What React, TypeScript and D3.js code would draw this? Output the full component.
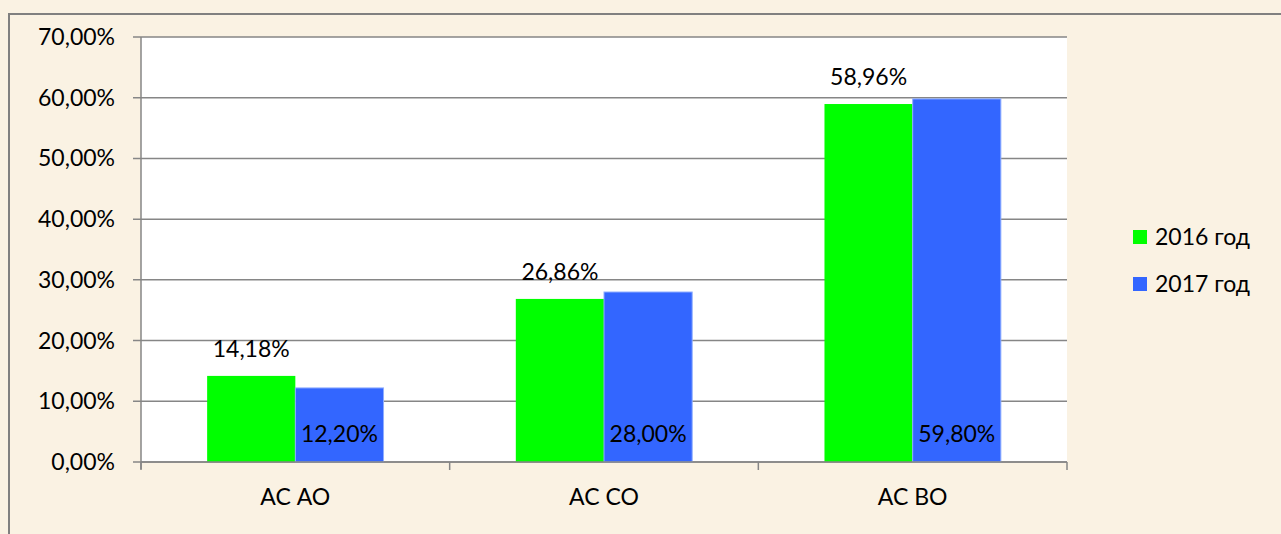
import { scaleBand, scaleLinear } from "d3";

const categories = ["АС АО", "АС СО", "АС ВО"];
const seriesNames = ["2016 год", "2017 год"];
const values2016 = [14.18, 26.86, 58.96];
const values2017 = [12.2, 28.0, 59.8];
const yTicks = [0, 10, 20, 30, 40, 50, 60, 70];

const colors = ["#00FF00", "#3366FF"];
const font = "Lato, 'Open Sans', sans-serif";

const width = 1281;
const height = 534;
const plot = { left: 141, right: 1067, top: 37, bottom: 462 };

const fmt = (v: number) => v.toFixed(2).replace(".", ",") + "%";

export default function App(): React.JSX.Element {
  const y = scaleLinear().domain([0, 70]).range([plot.bottom, plot.top]);
  const x0 = scaleBand<string>().domain(categories).range([plot.left, plot.right]);
  const x1 = scaleBand<string>()
    .domain(seriesNames)
    .range([0, x0.bandwidth()])
    .paddingOuter(0.75);
  const series = [values2016, values2017];

  return (
    <svg
      width={width}
      height={height}
      style={{ position: "fixed", left: 0, top: 0 }}
      fontFamily={font}
    >
      <rect x={0} y={0} width={width} height={height} fill="#FAF2E3" />
      <path d={`M9,${height} V14 H${width}`} fill="none" stroke="#808080" strokeWidth={2} />
      <rect
        x={plot.left}
        y={plot.top}
        width={plot.right - plot.left}
        height={plot.bottom - plot.top}
        fill="#FFFFFF"
      />
      {yTicks.map((t) => (
        <g key={t}>
          <line
            x1={plot.left - 8}
            x2={plot.right}
            y1={y(t)}
            y2={y(t)}
            stroke="#868686"
            strokeWidth={1.5}
          />
          <text
            x={plot.left - 26}
            y={y(t)}
            dy="0.35em"
            textAnchor="end"
            fontSize={23}
            fill="#000"
          >
            {fmt(t)}
          </text>
        </g>
      ))}
      {series.map((vals, si) =>
        categories.map((c, ci) => {
          const bx = (x0(c) ?? 0) + (x1(seriesNames[si]) ?? 0);
          return (
            <rect
              key={`${si}-${ci}`}
              x={bx}
              y={y(vals[ci])}
              width={x1.bandwidth()}
              height={plot.bottom - y(vals[ci])}
              fill={colors[si]}
              stroke={si === 1 ? "#8FAEFF" : "none"}
              strokeWidth={si === 1 ? 1 : 0}
            />
          );
        })
      )}
      <line x1={plot.left} x2={plot.left} y1={plot.top} y2={plot.bottom + 7} stroke="#868686" strokeWidth={1.5} />
      <line x1={plot.left} x2={plot.right} y1={plot.bottom} y2={plot.bottom} stroke="#868686" strokeWidth={1.5} />
      {[...categories.map((c) => x0(c) ?? 0), plot.right].map((tx, i) => (
        <line key={i} x1={tx} x2={tx} y1={plot.bottom} y2={plot.bottom + 8} stroke="#868686" strokeWidth={1.5} />
      ))}
      {categories.map((c, ci) => {
        const gx = (x0(c) ?? 0) + (x1(seriesNames[0]) ?? 0) + x1.bandwidth() / 2;
        const bx = (x0(c) ?? 0) + (x1(seriesNames[1]) ?? 0) + x1.bandwidth() / 2;
        return (
          <g key={c} fontSize={23} fill="#000">
            <text x={gx} y={y(values2016[ci]) - 27} dy="0.35em" textAnchor="middle">
              {fmt(values2016[ci])}
            </text>
            <text x={bx} y={plot.bottom - 28} dy="0.35em" textAnchor="middle">
              {fmt(values2017[ci])}
            </text>
            <text x={(x0(c) ?? 0) + x0.bandwidth() / 2} y={497} dy="0.35em" textAnchor="middle">
              {c}
            </text>
          </g>
        );
      })}
      {seriesNames.map((s, i) => (
        <g key={s}>
          <rect x={1133} y={230 + i * 47} width={14} height={14} fill={colors[i]} />
          <text x={1155} y={237 + i * 47} dy="0.35em" fontSize={23} fill="#000">
            {s}
          </text>
        </g>
      ))}
    </svg>
  );
}
